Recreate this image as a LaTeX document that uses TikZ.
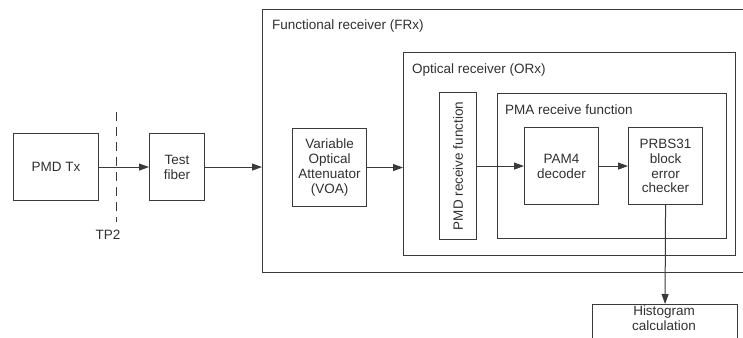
\documentclass[tikz,border=0pt]{standalone}
\usepackage{fontspec}
\setmainfont{Liberation Sans}
\usetikzlibrary{arrows.meta}
\definecolor{ln}{HTML}{3A3A3A}
\definecolor{tx}{HTML}{303030}
\tikzset{
  box/.style={draw=ln, line width=1.1pt, inner sep=0pt, anchor=north west},
  lbl/.style={text=tx, font=\fontsize{13.5}{14.8}\selectfont, align=center, inner sep=0pt},
  flow/.style={draw=ln, line width=1pt, -{Triangle[length=10pt,width=7pt]}}
}
\begin{document}
\begin{tikzpicture}[x=1pt,y=-1pt]
\useasboundingbox (0,0) rectangle (743,337);
% containers
\node[box, minimum width=500pt, minimum height=263pt] (frx) at (262,9) {};
\node[box, minimum width=332pt, minimum height=203pt] (orx) at (403,52) {};
\node[box, minimum width=229pt, minimum height=145pt] (pma) at (497,93) {};
\node[lbl, anchor=base west] (frxl) at (272,30) {Functional receiver (FRx)};
\node[lbl, anchor=base west] (orxl) at (412,73) {Optical receiver (ORx)};
\node[lbl, anchor=base west] (pmal) at (505,114) {PMA receive function};
% blocks
\node[box, minimum width=85pt, minimum height=67pt] (pmdtx) at (13,133) {};
\node[lbl] at (pmdtx.center) {PMD Tx};
\node[box, minimum width=55pt, minimum height=67pt] (fiber) at (149,133) {};
\node[lbl] at (fiber.center) {Test\\fiber};
\node[box, minimum width=74pt, minimum height=78pt] (voa) at (292,128) {};
\node[lbl] at (voa.center) {Variable\\Optical\\Attenuator\\(VOA)};
\node[box, minimum width=37pt, minimum height=147pt] (pmdrx) at (439,92) {};
\node[lbl, rotate=90] at (pmdrx.center) {PMD receive function};
\node[box, minimum width=74pt, minimum height=77pt] (pam) at (524,127) {};
\node[lbl] at (pam.center) {PAM4\\decoder};
\node[box, minimum width=74pt, minimum height=77pt] (prbs) at (628,127) {};
\node[lbl] at (prbs.center) {PRBS31\\block\\error\\checker};
\node[box, minimum width=145pt, minimum height=50pt] (hist) at (592,304) {};
\node[lbl] at (664,318) {Histogram\\calculation};
% TP2
\coordinate (tpt) at (116,112);
\coordinate (tpb) at (116,222);
\draw[draw=ln, line width=0.9pt, dash pattern=on 9pt off 6pt] (tpt) -- (tpb);
\node[lbl, anchor=base] (tp2) at (108,239) {TP2};
% connectors
\draw[flow] (pmdtx.east) -- (fiber.west);
\draw[flow] (fiber.east) -- (fiber.east -| frx.west);
\draw[flow] (voa.east) -- (voa.east -| orx.west);
\draw[flow] (pmdrx.east) -- (pam.west);
\draw[flow] (pam.east) -- (prbs.west);
\draw[flow] (prbs.south) -- (hist.north);
\end{tikzpicture}
\end{document}
